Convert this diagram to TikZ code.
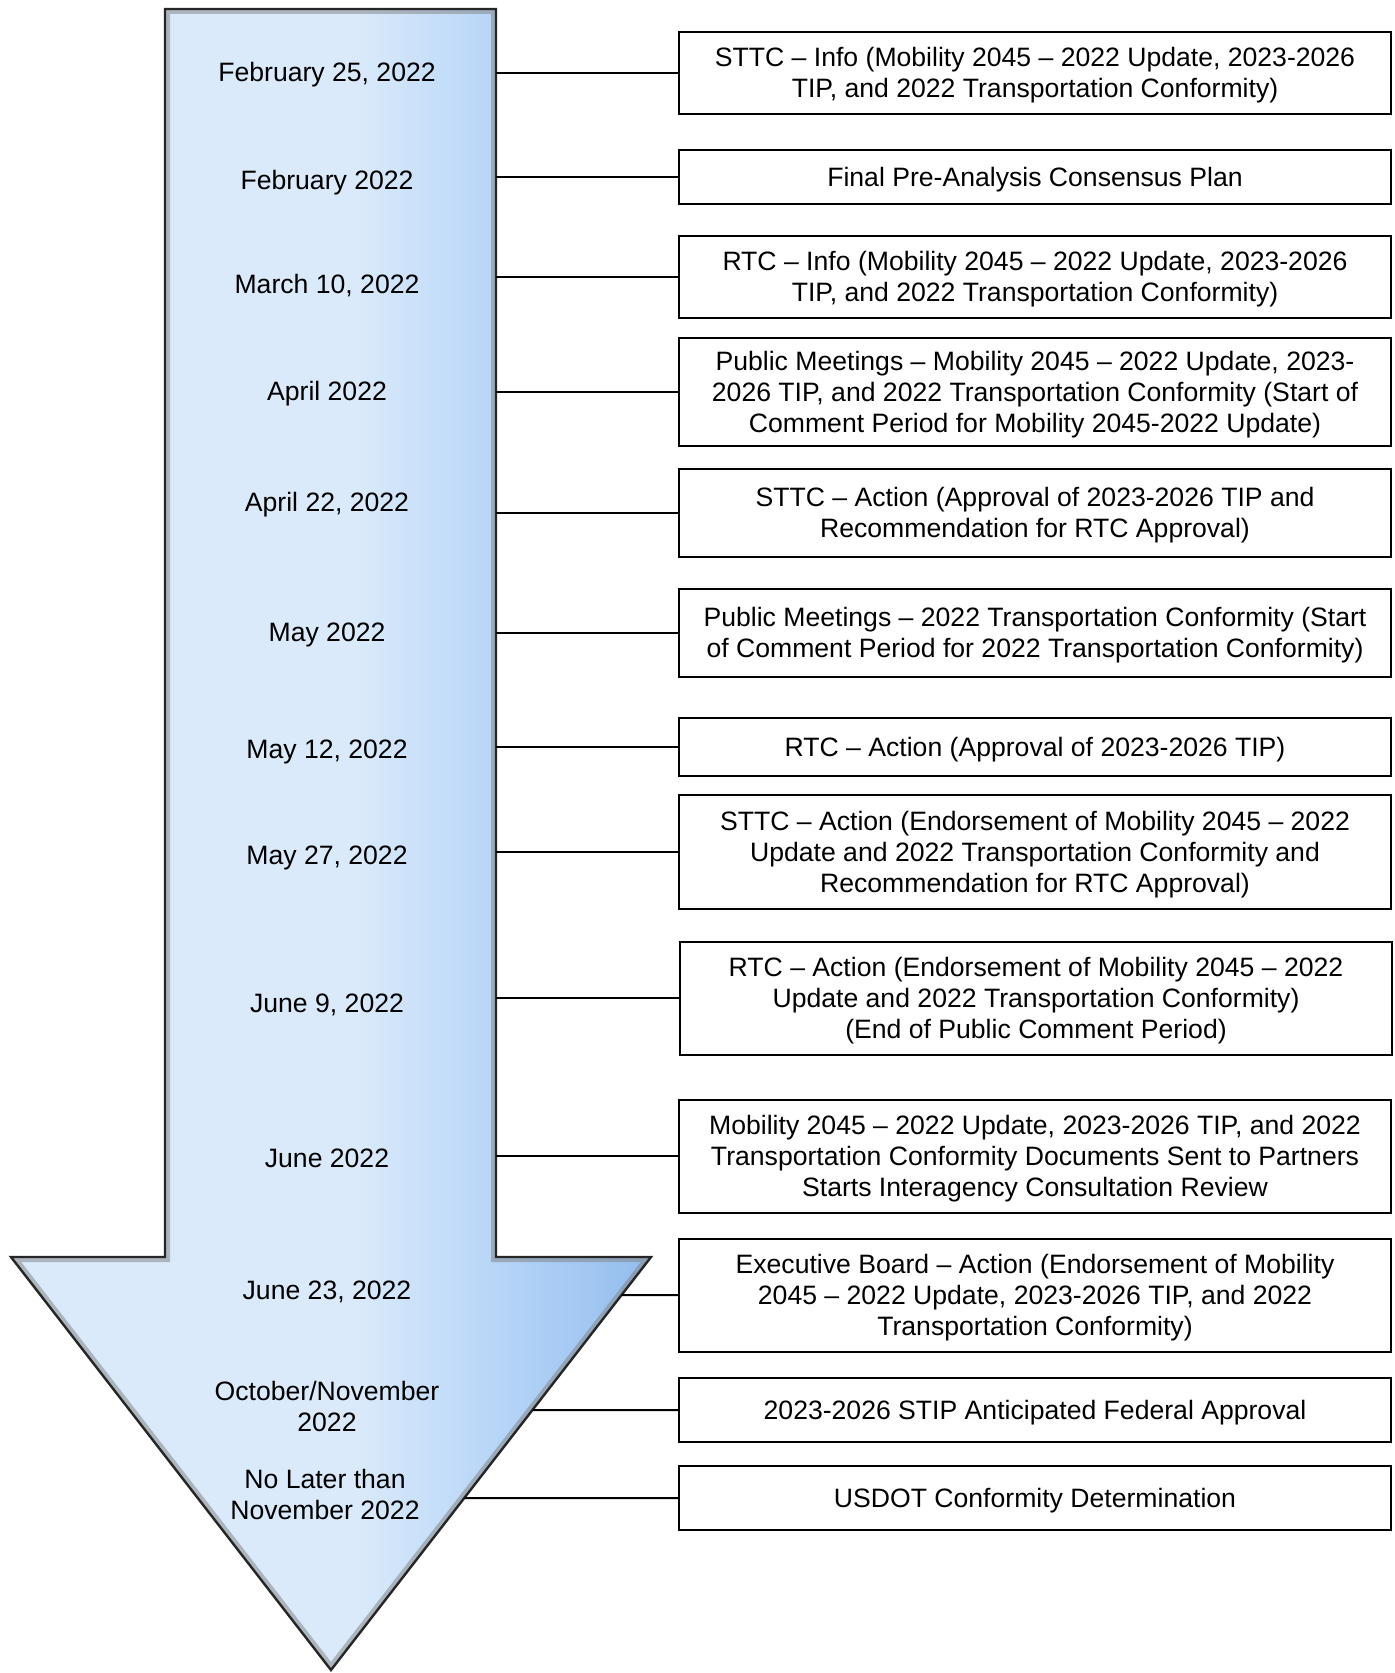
\documentclass[tikz,border=0pt]{standalone}
\usepackage{fontspec}
\setmainfont{Liberation Sans}
\definecolor{arrowlight}{HTML}{DAEAFB}
\definecolor{arrowmid}{HTML}{B7D5F7}
\definecolor{arrowdark}{HTML}{92BDEE}
\pgfdeclarehorizontalshading{arrowshade}{100bp}{color(0bp)=(arrowlight); color(52bp)=(arrowlight); color(63bp)=(arrowmid); color(75bp)=(arrowdark); color(100bp)=(arrowdark)}
\newcommand\liftlines[1]{\raisebox{-1.6pt}[\height][\depth]{\begin{tabular}{@{}c@{}}#1\end{tabular}}}

\begin{document}
\begin{tikzpicture}[x=0.5pt,y=-0.5pt,
  event/.style={draw=black,line width=1pt,fill=white,minimum width=356pt,inner sep=2pt},
  date/.style={align=center,inner sep=1pt},
  link/.style={line width=1pt}]
\fontsize{13.3}{15.5}\selectfont
\useasboundingbox (0,0) rectangle (1395,1673);
\coordinate (tl) at (165,9);
\coordinate (tr) at (496,9);
\coordinate (nr) at (496,1257);
\coordinate (hr) at (651,1257);
\coordinate (tip) at (331,1670);
\coordinate (hl) at (11,1257);
\coordinate (nl) at (165,1257);
\path[shading=arrowshade] (tl) -- (tr) -- (nr) -- (hr) -- (tip) -- (hl) -- (nl) -- cycle;
\begin{scope}
\clip (tl) -- (tr) -- (nr) -- (hr) -- (tip) -- (hl) -- (nl) -- cycle;
\draw[black!50,opacity=.5,line width=5pt,line join=miter] (tl) -- (tr) -- (nr) -- (hr) -- (tip) -- (hl) -- (nl) -- cycle;
\end{scope}
\draw[black!85,line width=1.2pt] (tl) -- (tr) -- (nr) -- (hr) -- (tip) -- (hl) -- (nl) -- cycle;

\node[date] (d1) at (327,75) {February 25, 2022};
\node[date] (d2) at (327,183) {February 2022};
\node[date] (d3) at (327,286) {March 10, 2022};
\node[date] (d4) at (327,394) {April 2022};
\node[date] (d5) at (327,505) {April 22, 2022};
\node[date] (d6) at (327,635) {May 2022};
\node[date] (d7) at (327,752) {May 12, 2022};
\node[date] (d8) at (327,858) {May 27, 2022};
\node[date] (d9) at (327,1005) {June 9, 2022};
\node[date] (d10) at (327,1158) {June 2022};
\node[date] (d11) at (327,1292) {June 23, 2022};
\node[date] (d12) at (327,1406) {October/November\\2022};
\node[date] (d13) at (325,1494) {No Later than\\November 2022};

\node[event,minimum height=41pt] (e1) at (1035,73) {\liftlines{STTC -- Info (Mobility 2045 -- 2022 Update, 2023-2026\\TIP, and 2022 Transportation Conformity)}};
\node[event,minimum height=27pt] (e2) at (1035,177) {\liftlines{Final Pre-Analysis Consensus Plan}};
\node[event,minimum height=41pt] (e3) at (1035,277) {\liftlines{RTC -- Info (Mobility 2045 -- 2022 Update, 2023-2026\\TIP, and 2022 Transportation Conformity)}};
\node[event,minimum height=54pt] (e4) at (1035,392) {\liftlines{Public Meetings -- Mobility 2045 -- 2022 Update, 2023-\\2026 TIP, and 2022 Transportation Conformity (Start of\\Comment Period for Mobility 2045-2022 Update)}};
\node[event,minimum height=43.5pt] (e5) at (1035,513) {\liftlines{STTC -- Action (Approval of 2023-2026 TIP and\\Recommendation for RTC Approval)}};
\node[event,minimum height=44pt] (e6) at (1035,633) {\liftlines{Public Meetings -- 2022 Transportation Conformity (Start\\of Comment Period for 2022 Transportation Conformity)}};
\node[event,minimum height=29pt] (e7) at (1035,747) {\liftlines{RTC -- Action (Approval of 2023-2026 TIP)}};
\node[event,minimum height=57pt] (e8) at (1035,852) {\liftlines{STTC -- Action (Endorsement of Mobility 2045 -- 2022\\Update and 2022 Transportation Conformity and\\Recommendation for RTC Approval)}};
\node[event,minimum height=56.5pt] (e9) at (1036,998) {\liftlines{RTC -- Action (Endorsement of Mobility 2045 -- 2022\\Update and 2022 Transportation Conformity)\\(End of Public Comment Period)}};
\node[event,minimum height=56.5pt] (e10) at (1035,1156) {\liftlines{Mobility 2045 -- 2022 Update, 2023-2026 TIP, and 2022\\Transportation Conformity Documents Sent to Partners\\Starts Interagency Consultation Review}};
\node[event,minimum height=56.5pt] (e11) at (1035,1295) {\liftlines{Executive Board -- Action (Endorsement of Mobility\\2045 -- 2022 Update, 2023-2026 TIP, and 2022\\Transportation Conformity)}};
\node[event,minimum height=32pt] (e12) at (1035,1410) {\liftlines{2023-2026 STIP Anticipated Federal Approval}};
\node[event,minimum height=32pt] (e13) at (1035,1498) {\liftlines{USDOT Conformity Determination}};

\draw[link] (e1.west) -- (e1.west -| tr);
\draw[link] (e2.west) -- (e2.west -| tr);
\draw[link] (e3.west) -- (e3.west -| tr);
\draw[link] (e4.west) -- (e4.west -| tr);
\draw[link] (e5.west) -- (e5.west -| tr);
\draw[link] (e6.west) -- (e6.west -| tr);
\draw[link] (e7.west) -- (e7.west -| tr);
\draw[link] (e8.west) -- (e8.west -| tr);
\draw[link] (e9.west) -- (e9.west -| tr);
\draw[link] (e10.west) -- (e10.west -| tr);
\draw[link] (e11.west) -- (intersection of e11.west--e11.east and hr--tip);
\draw[link] (e12.west) -- (intersection of e12.west--e12.east and hr--tip);
\draw[link] (e13.west) -- (intersection of e13.west--e13.east and hr--tip);
\end{tikzpicture}
\end{document}
